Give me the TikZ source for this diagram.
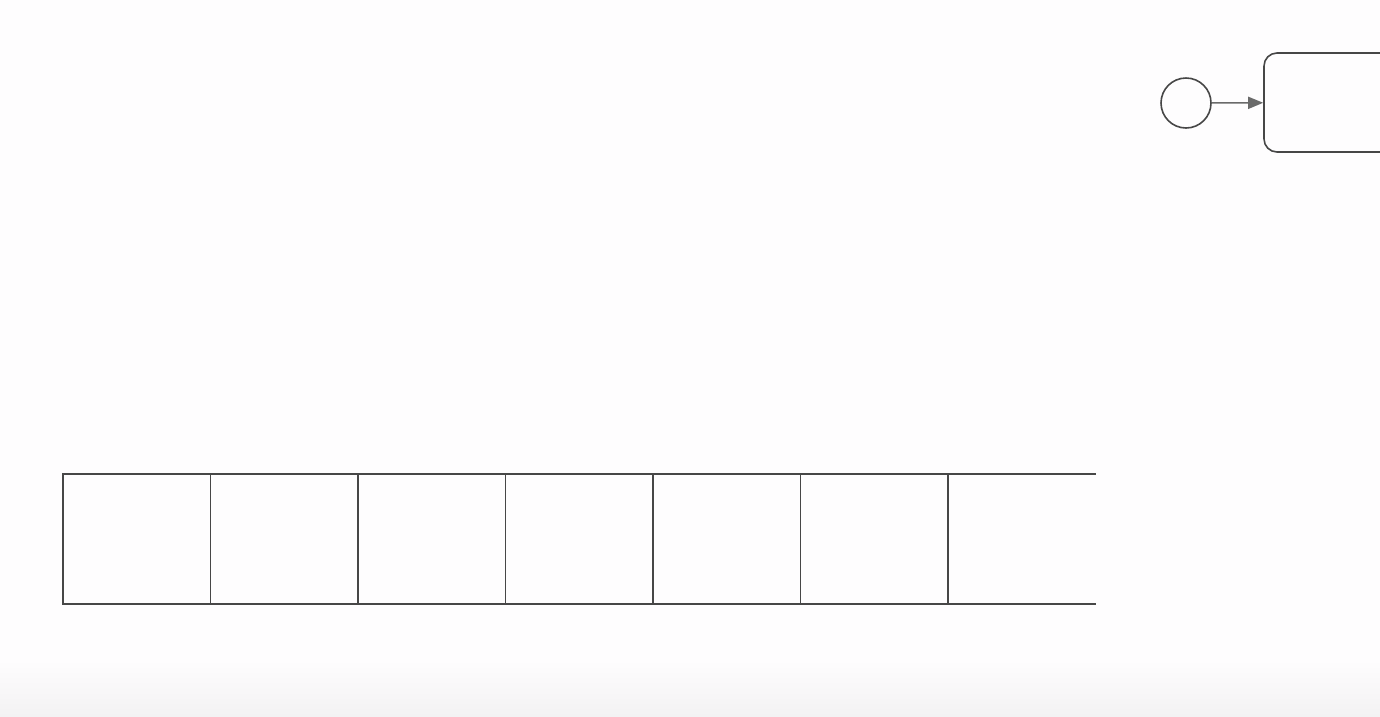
\documentclass[tikz,border=0pt]{standalone}
\usetikzlibrary{arrows.meta}
\definecolor{bg}{HTML}{FEFDFE}
\definecolor{bgbot}{HTML}{F3F2F3}
\definecolor{ink}{HTML}{474747}
\definecolor{arr}{HTML}{6A6A6A}
\begin{document}
\begin{tikzpicture}[x=1pt,y=-1pt,
  cellbox/.style={draw=ink,line width=1.6pt,minimum width=147.5pt,minimum height=130pt,inner sep=0pt,outer sep=0pt},
  opencell/.style={minimum width=147.5pt,minimum height=130pt,inner sep=0pt,outer sep=0pt},
  edge/.style={draw=ink,line width=1.6pt},
  startev/.style={circle,draw=ink,line width=1.6pt,minimum size=50pt,inner sep=0pt},
  taskbox/.style={draw=ink,line width=1.6pt,rounded corners=13pt,minimum width=200pt,minimum height=99pt,inner sep=0pt},
  flow/.style={draw=arr,line width=1.5pt,-{Triangle[length=15pt,width=12pt]}}]
\useasboundingbox (0,0) rectangle (1380,716);
\clip (0,0) rectangle (1380,716);
\fill[bg] (0,0) rectangle (1380,716);
\shade[top color=bg,bottom color=bgbot] (0,660) rectangle (1380,716);
% strip of cells
\node[cellbox] (c1) at (136.75,539) {};
\node[cellbox,anchor=west] (c2) at (c1.east) {};
\node[cellbox,anchor=west] (c3) at (c2.east) {};
\node[cellbox,anchor=west] (c4) at (c3.east) {};
\node[cellbox,anchor=west] (c5) at (c4.east) {};
\node[cellbox,anchor=west] (c6) at (c5.east) {};
\node[opencell,anchor=west] (c7) at (c6.east) {};
\draw[edge] (c6.north east) -- (c7.north east);
\draw[edge] (c6.south east) -- (c7.south east);
% start event and task
\node[startev] (s) at (1186,103) {};
\node[taskbox] (t) at (1364,102.5) {};
\draw[flow] (s) -- (t);
\end{tikzpicture}
\end{document}
